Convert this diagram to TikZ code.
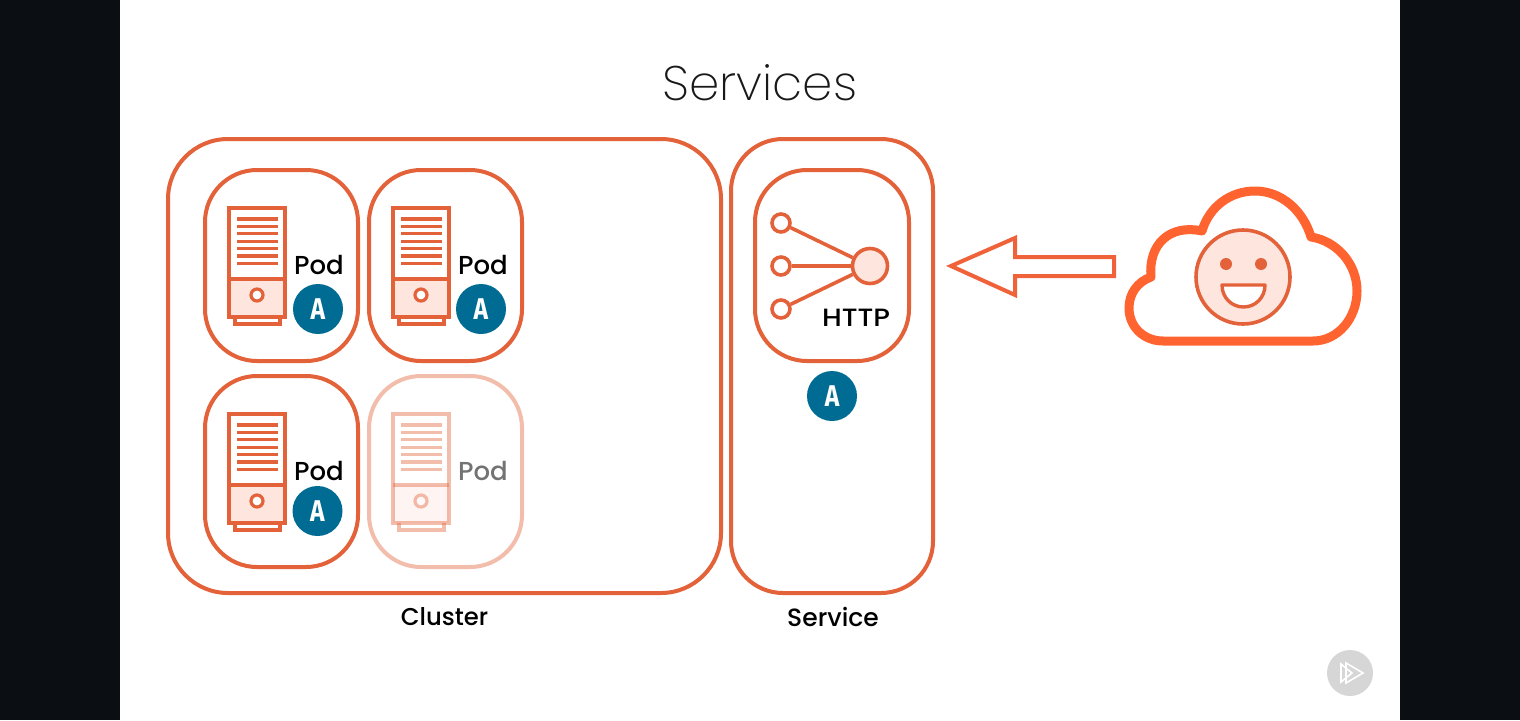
\documentclass[tikz,border=0pt]{standalone}
\usepackage{fontspec}
\setmainfont{Poppins}[UprightFont=* Medium]
\newfontfamily\titlefont{Poppins ExtraLight}
\newfontfamily\badgefont{Fira Sans}[UprightFont=* Bold]
\usetikzlibrary{calc}
\definecolor{stroke}{HTML}{E4623A}
\definecolor{cloudc}{HTML}{FF6330}
\definecolor{arrowc}{HTML}{F0623A}
\definecolor{pale}{HTML}{FEE6DE}
\definecolor{badgec}{HTML}{006C93}
\definecolor{barc}{HTML}{0B0E13}
\tikzset{
  x=1pt,y=-1pt,
  bigbox/.style={draw=stroke,line width=4pt,rounded corners=60pt,inner sep=0pt},
  podbox/.style={draw=stroke,line width=4pt,rounded corners=52pt,inner sep=0pt,minimum width=153pt,minimum height=191pt},
  srv/.style={draw=stroke,line width=3.5pt},
  vent/.style={draw=stroke,line width=3.2pt},
  caption/.style={font=\fontsize{24.3}{24}\selectfont,text=black,inner sep=0pt},
  podtext/.style={},
  badgeletter/.style={text=white,inner sep=0pt,font=\badgefont\fontsize{30}{30}\selectfont,xscale=.82},
  hub/.style={circle,draw=stroke,line width=3.6pt,fill=white,minimum size=18pt,inner sep=0pt},
  hubmain/.style={circle,draw=stroke,line width=3.6pt,fill=pale,minimum size=35pt,inner sep=0pt},
  wire/.style={draw=stroke,line width=3.6pt},
}
% #1 name, #2 shift x, #3 shift y
\newcommand\podunit[3]{%
  \begin{scope}[shift={(#2,#3)}]
    \node[podbox] (#1box) at (281.5,265.5) {};
    \fill[pale] (229,279) rectangle (285,317);
    \draw[srv] (229,208) rectangle (285,317);
    \draw[srv] (229,279) -- (285,279);
    \draw[srv] (235,317) -- (235,324) -- (280,324) -- (280,317);
    \foreach \yy in {219,226.4,233.8,241.2,248.6,256,263.4}
      \draw[vent] (237,\yy) -- (278,\yy);
    \node[circle,draw=stroke,line width=3.2pt,fill=white,minimum size=12pt,inner sep=0pt] (#1hole) at (257,295) {};
    \node[caption,font=\fontsize{26}{26}\selectfont,podtext] (#1label) at (319,265) {Pod};
  \end{scope}}
\newcommand\appbadge[3]{%
  \node[circle,fill=badgec,minimum size=50pt,inner sep=0pt] (#1) at (#2,#3) {};
  \node[badgeletter] (#1letter) at (#1) {A};}
\begin{document}
\begin{tikzpicture}
\useasboundingbox (0,0) rectangle (1520,720);
\fill[barc] (0,0) rectangle (120,720);
\fill[barc] (1400,0) rectangle (1520,720);
\fill[white] (120,0) rectangle (1400,720);

\node[font=\titlefont\fontsize{48.5}{48}\selectfont,text=black!90,inner sep=0pt] (title) at (760,83) {Services};

\node[bigbox,minimum width=553pt,minimum height=454pt] (cluster) at (444.5,366) {};
\node[bigbox,minimum width=202pt,minimum height=454pt,rounded corners=52pt] (service) at (832,366) {};
\node[caption] (clusterlabel) at (444.5,617) {Cluster};
\node[caption,font=\fontsize{25}{25}\selectfont] (servicelabel) at (833,617) {Service};

\podunit{a}{0}{0}
\appbadge{abadge}{318}{309}
\podunit{b}{164}{0}
\appbadge{bbadge}{481}{309}
\podunit{c}{0}{206}
\appbadge{cbadge}{317.5}{511}
\begin{scope}[opacity=.42,podtext/.style={text opacity=.55}]
\podunit{d}{164}{206}
\end{scope}

\node[podbox,minimum width=154pt] (http) at (832,265.5) {};
\node[hub] (h1) at (781,223) {};
\node[hub] (h2) at (781,266) {};
\node[hub] (h3) at (781,309) {};
\node[hubmain] (hm) at (870,266) {};
\draw[wire] (h1) -- (hm);
\draw[wire] (h2) -- (hm);
\draw[wire] (h3) -- (hm);
\node[caption,font=\fontsize{25}{25}\selectfont,xscale=1.12] (httplabel) at (856,318) {HTTP};
\appbadge{sbadge}{832}{396}

\draw[draw=arrowc,line width=4pt,line join=miter,miter limit=10]
  (951,266) -- (1015,238) -- (1015,257) -- (1114,257) -- (1114,276) -- (1015,276) -- (1015,295) -- cycle;

\draw[draw=cloudc,line width=9pt,line join=round]
  (1163,341) -- (1313,341)
  .. controls (1338,341) and (1357,318) .. (1357,291)
  .. controls (1357,264) and (1337,241) .. (1311,237)
  .. controls (1303,210) and (1281,191) .. (1255,191)
  .. controls (1230,191) and (1209,207) .. (1202,231)
  .. controls (1170,224) and (1148,244) .. (1151,277)
  .. controls (1137,282) and (1129,294) .. (1129,308)
  .. controls (1129,327) and (1144,341) .. (1163,341) -- cycle;

\node[circle,draw=stroke,fill=pale,line width=3.6pt,minimum size=94pt,inner sep=0pt] (face) at (1243,277) {};
\node[circle,fill=stroke,minimum size=12pt,inner sep=0pt] (eye1) at (1226,264) {};
\node[circle,fill=stroke,minimum size=12pt,inner sep=0pt] (eye2) at (1261,264) {};
\draw[draw=stroke,fill=white,line width=3.4pt,line join=round]
  (1222,285) -- (1265,285) .. controls (1265,298) and (1255,307) .. (1243.5,307)
  .. controls (1232,307) and (1222,298) .. (1222,285) -- cycle;

\node[circle,fill=black!16,minimum size=46pt,inner sep=0pt] (play) at (1350,673) {};
\draw[white,line width=1.6pt,line join=miter] (1341,664) -- (1352,673) -- (1341,682) -- cycle;
\draw[white,line width=1.6pt,line join=miter] (1346,663) -- (1363,673) -- (1346,683) -- cycle;
\end{tikzpicture}
\end{document}
